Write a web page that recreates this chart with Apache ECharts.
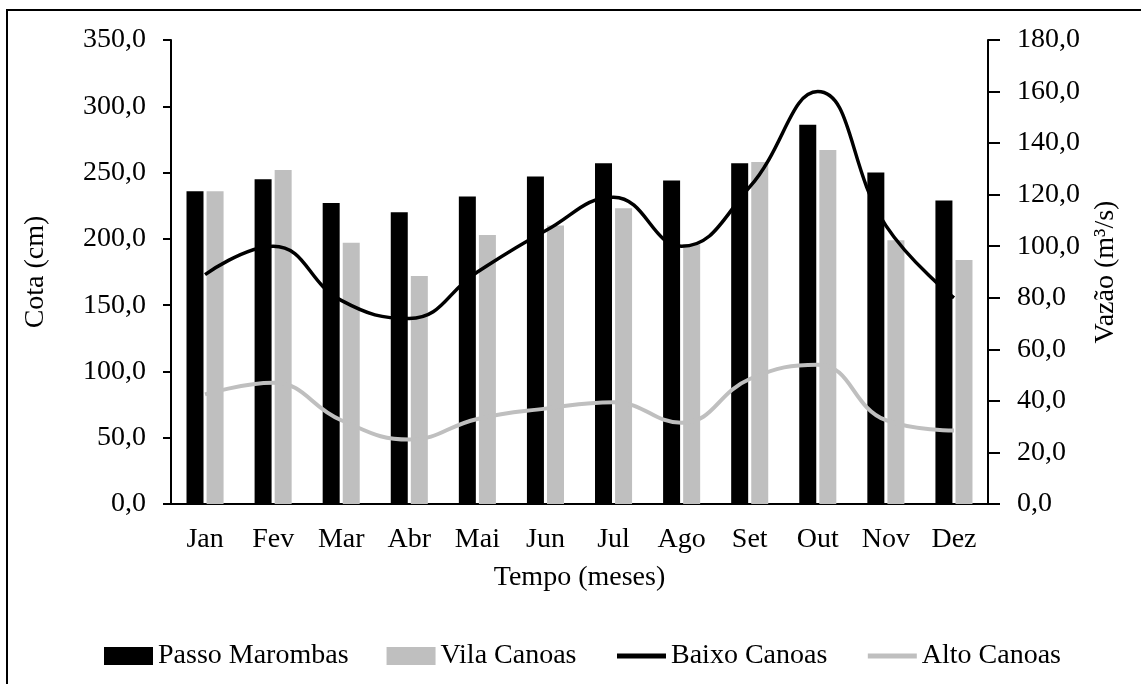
<!DOCTYPE html>
<html>
<head>
<meta charset="utf-8">
<script src="https://cdn.jsdelivr.net/npm/echarts@6/dist/echarts.min.js"></script>
<style>
  html, body { margin: 0; padding: 0; background: #fff; }
  #chart { width: 1141px; height: 684px; }
</style>
</head>
<body>
<div id="chart"></div>
<script>
  // dados
  var months = ['Jan', 'Fev', 'Mar', 'Abr', 'Mai', 'Jun', 'Jul', 'Ago', 'Set', 'Out', 'Nov', 'Dez'];
  var passoMarombas = [236, 245, 227, 220, 232, 247, 257, 244, 257, 286, 250, 229];
  var vilaCanoas = [236, 252, 197, 172, 203, 210, 223, 196, 258, 267, 199, 184];
  var baixoCanoas = [89, 100, 79, 72, 90, 106, 119, 100, 123, 160, 108, 80];
  var altoCanoas = [42.5, 47, 32.5, 25, 33, 37, 39.5, 31.5, 48.5, 54, 32.5, 28.5];

  var font = "'Liberation Serif', 'Times New Roman', serif";
  var fmt = function (v) { return v.toFixed(1).replace('.', ','); };

  var myChart = echarts.init(document.getElementById('chart'));
  myChart.setOption({
    animation: false,
    textStyle: { fontFamily: font, color: '#000' },
    graphic: [{
      type: 'rect',
      shape: { x: 7, y: 10, width: 1300, height: 800 },
      style: { fill: 'none', stroke: '#000', lineWidth: 2 }
    }],
    grid: { left: 171, right: 153, top: 40, bottom: 180 },
    legend: {
      left: 99,
      top: 637,
      itemWidth: 49,
      itemHeight: 18,
      itemGap: 38,
      textStyle: { fontFamily: font, fontSize: 28, color: '#000' },
      data: [
        { name: 'Passo Marombas', icon: 'rect' },
        { name: 'Vila Canoas', icon: 'rect' },
        { name: 'Baixo Canoas', itemStyle: { opacity: 0 }, lineStyle: { width: 5 } },
        { name: 'Alto Canoas', itemStyle: { opacity: 0 }, lineStyle: { width: 5 } }
      ]
    },
    xAxis: {
      type: 'category',
      data: months,
      name: 'Tempo (meses)',
      nameLocation: 'middle',
      nameGap: 60,
      nameTextStyle: { fontSize: 28, color: '#000' },
      axisLine: { lineStyle: { color: '#000', width: 2 } },
      axisTick: { length: 9, lineStyle: { color: '#000', width: 2 } },
      axisLabel: { fontSize: 28, color: '#000', margin: 22 }
    },
    yAxis: [{
      type: 'value',
      min: 0, max: 350, interval: 50,
      name: 'Cota (cm)',
      nameLocation: 'middle',
      nameGap: 121,
      nameTextStyle: { fontSize: 28, color: '#000' },
      axisLine: { show: true, lineStyle: { color: '#000', width: 2 } },
      axisTick: { show: true, length: 8, lineStyle: { color: '#000', width: 2 } },
      axisLabel: { fontSize: 28, color: '#000', margin: 25, formatter: fmt },
      splitLine: { show: false }
    }, {
      type: 'value',
      min: 0, max: 180, interval: 20,
      name: 'Vazão (m³/s)',
      nameLocation: 'middle',
      nameGap: 104,
      nameTextStyle: { fontSize: 28, color: '#000' },
      axisLine: { show: true, lineStyle: { color: '#000', width: 2 } },
      axisTick: { show: true, length: 12, lineStyle: { color: '#000', width: 2 } },
      axisLabel: { fontSize: 28, color: '#000', margin: 29, formatter: fmt },
      splitLine: { show: false }
    }],
    series: [{
      name: 'Passo Marombas',
      type: 'bar',
      barWidth: 17,
      barGap: '18%',
      itemStyle: { color: '#000' },
      data: passoMarombas
    }, {
      name: 'Vila Canoas',
      type: 'bar',
      barWidth: 17,
      itemStyle: { color: '#bfbfbf' },
      data: vilaCanoas
    }, {
      name: 'Baixo Canoas',
      type: 'line',
      yAxisIndex: 1,
      smooth: 0.45,
      symbol: 'none',
      lineStyle: { color: '#000', width: 3.5 },
      itemStyle: { color: '#000' },
      data: baixoCanoas
    }, {
      name: 'Alto Canoas',
      type: 'line',
      yAxisIndex: 1,
      smooth: 0.45,
      symbol: 'none',
      lineStyle: { color: '#bfbfbf', width: 4 },
      itemStyle: { color: '#bfbfbf' },
      data: altoCanoas
    }]
  });
</script>
</body>
</html>
